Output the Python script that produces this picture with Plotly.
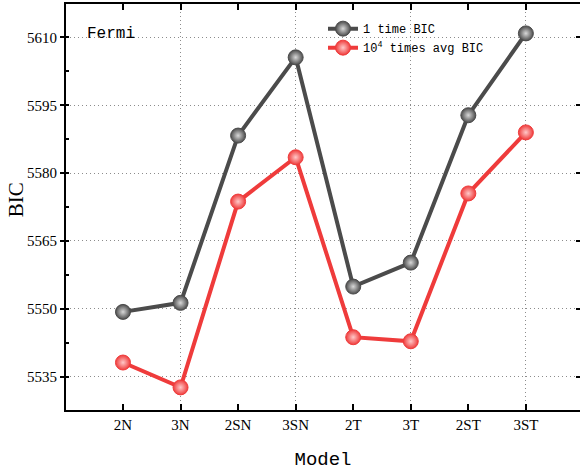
import plotly.graph_objects as go

models = ["2N", "3N", "2SN", "3SN", "2T", "3T", "2ST", "3ST"]
bic_once = [5549.3, 5551.3, 5588.3, 5605.6, 5554.9, 5560.2, 5592.8, 5610.9]
bic_avg = [5538.1, 5532.6, 5573.7, 5583.5, 5543.7, 5542.8, 5575.5, 5589.0]
y_ticks = [5535, 5550, 5565, 5580, 5595, 5610]

xi = list(range(len(models)))
XR = [-0.99, 7.94]
YR = [5527.6, 5617.4]

GRAY = "#4b4b4b"
RED = "#ef3b3b"
MONO = "Liberation Mono"
SERIF = "Liberation Serif"
GRID = "#8c8c8c"
DASH = "1px,3px"

fig = go.Figure()
fig.add_trace(go.Scatter(
    x=xi, y=bic_once, mode="lines+markers", name="1 time BIC",
    line=dict(color=GRAY, width=4),
    marker=dict(size=15, color=GRAY, line=dict(color=GRAY, width=1),
                gradient=dict(type="radial", color="#d8d8d8")),
))
fig.add_trace(go.Scatter(
    x=xi, y=bic_avg, mode="lines+markers", name="10<sup>4</sup> times avg BIC",
    line=dict(color=RED, width=4),
    marker=dict(size=15, color=RED, line=dict(color=RED, width=1),
                gradient=dict(type="radial", color="#ffc8c8")),
))
# invisible trace to anchor the top/right helper axes
fig.add_trace(go.Scatter(x=xi, y=bic_once, xaxis="x2", yaxis="y2", mode="markers",
                         marker=dict(opacity=0), showlegend=False, hoverinfo="skip"))

fig.update_layout(
    width=580, height=475,
    margin=dict(l=66, r=0, t=4, b=65),
    paper_bgcolor="white", plot_bgcolor="white",
    showlegend=True,
    legend=dict(x=0.5, y=0.975, xanchor="left", yanchor="top",
                bgcolor="rgba(0,0,0,0)", font=dict(family=MONO, size=12, color="black"),
                itemwidth=30, tracegroupgap=0),
    xaxis=dict(
        range=XR, tickvals=xi, ticktext=models, showgrid=False, zeroline=False,
        ticks="inside", ticklen=6, tickwidth=2, tickcolor="black",
        showline=True, linecolor="black", linewidth=2,
        tickfont=dict(family=SERIF, size=15, color="black"),
        title=dict(text="Model", font=dict(family=MONO, size=19, color="black"), standoff=20),
    ),
    yaxis=dict(
        range=YR, tickvals=y_ticks, showgrid=True, gridcolor=GRID, griddash=DASH, gridwidth=1,
        zeroline=False, ticks="outside", ticklen=4, tickwidth=2, tickcolor="black",
        showline=True, linecolor="black", linewidth=2,
        minor=dict(dtick=7.5, tick0=5535 - 7.5, ticks="inside", ticklen=3, tickwidth=2,
                   tickcolor="black", showgrid=False),
        tickfont=dict(family=SERIF, size=15, color="black"),
    ),
    xaxis2=dict(
        overlaying="x", side="top", range=XR, tickvals=[1, 3, 5, 7], showticklabels=False,
        showgrid=True, gridcolor=GRID, griddash=DASH, gridwidth=1, zeroline=False,
        ticks="inside", ticklen=6, tickwidth=2, tickcolor="black",
        showline=True, linecolor="black", linewidth=2,
        minor=dict(tickvals=[0, 2, 4, 6], ticks="inside", ticklen=6, tickwidth=2,
                   tickcolor="black", showgrid=False),
    ),
    yaxis2=dict(
        overlaying="y", side="right", range=YR, tickvals=y_ticks, showticklabels=False,
        showgrid=False, zeroline=False, ticks="inside", ticklen=4, tickwidth=2, tickcolor="black",
        showline=True, linecolor="black", linewidth=2,
    ),
    annotations=[
        dict(text="Fermi", xref="paper", yref="paper", x=0.037, y=0.926,
             xanchor="left", yanchor="middle", showarrow=False,
             font=dict(family=MONO, size=16, color="black")),
        dict(text="BIC", xref="paper", yref="paper", x=-0.097, y=0.517,
             xanchor="center", yanchor="middle", textangle=-90, showarrow=False,
             font=dict(family=SERIF, size=21, color="black")),
    ],
)

fig.write_html("out.html")
